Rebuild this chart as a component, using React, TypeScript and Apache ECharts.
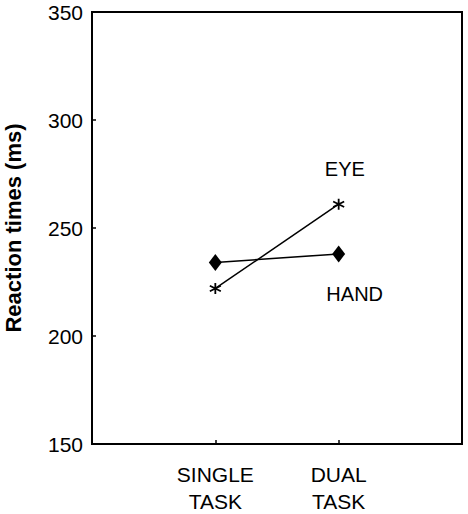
import React, { useEffect, useRef } from "react";
import * as echarts from "echarts";

const categories = ["SINGLE\nTASK", "DUAL\nTASK"];
const categoryPositions = [1, 2];
const handValues = [234, 238];
const eyeValues = [222, 261];
const yTicks = [150, 200, 250, 300, 350];
const annotations = [
  { text: "EYE", x: 2.05, y: 277.5 },
  { text: "HAND", x: 2.13, y: 219.5 },
];

const FONT = "Liberation Sans, Arial, sans-serif";
const asterisk =
  "path://M0,-5L0,5M-4.33,-2.5L4.33,2.5M-4.33,2.5L4.33,-2.5";

export default function App() {
  const ref = useRef<HTMLDivElement>(null);
  useEffect(() => {
    if (!ref.current) return;
    const chart = echarts.init(ref.current, null, { renderer: "svg" });
    chart.setOption({
      animation: false,
      grid: {
        left: 92,
        top: 12,
        right: 6,
        bottom: 70,
        show: true,
        borderColor: "#000",
        borderWidth: 2,
        containLabel: false,
        outerBoundsMode: "none",
      },
      xAxis: {
        type: "value",
        min: 0,
        max: 3,
        interval: 1,
        splitLine: { show: false },
        axisLine: { show: true, lineStyle: { color: "#000", width: 2 } },
        axisTick: { show: true, inside: true, length: 4, lineStyle: { color: "#000", width: 1.5 } },
        axisLabel: {
          color: "#000",
          fontFamily: FONT,
          fontSize: 21,
          lineHeight: 27,
          margin: 17,
          formatter: (v: number) => {
            const i = categoryPositions.indexOf(v);
            return i >= 0 ? categories[i] : "";
          },
        },
      },
      yAxis: {
        type: "value",
        min: yTicks[0],
        max: yTicks[yTicks.length - 1],
        interval: 50,
        name: "Reaction times (ms)",
        nameLocation: "middle",
        nameGap: 68,
        nameTextStyle: { color: "#000", fontFamily: FONT, fontSize: 22, fontWeight: "bold" },
        splitLine: { show: false },
        axisLine: { show: true, lineStyle: { color: "#000", width: 2 } },
        axisTick: { show: true, inside: true, length: 4, lineStyle: { color: "#000", width: 1.5 } },
        axisLabel: { color: "#000", fontFamily: FONT, fontSize: 21, margin: 9 },
      },
      series: [
        {
          name: "HAND",
          type: "line",
          data: categoryPositions.map((x, i) => [x, handValues[i]]),
          symbol: "diamond",
          symbolSize: [13, 17],
          lineStyle: { color: "#000", width: 1.5 },
          itemStyle: { color: "#000" },
          z: 3,
        },
        {
          name: "EYE",
          type: "line",
          data: categoryPositions.map((x, i) => [x, eyeValues[i]]),
          symbol: asterisk,
          symbolSize: 11,
          lineStyle: { color: "#000", width: 1.5 },
          itemStyle: { color: "#000", borderColor: "#000", borderWidth: 1.8 },
          z: 3,
        },
      ],
    });
    const graphics = annotations.map((a) => {
      const p = chart.convertToPixel({ gridIndex: 0 }, [a.x, a.y]) as number[];
      return {
        type: "text",
        x: p[0],
        y: p[1],
        style: {
          text: a.text,
          fill: "#000",
          font: `20px ${FONT}`,
          textAlign: "center",
          textVerticalAlign: "middle",
        },
      };
    });
    chart.setOption({ graphic: graphics });
    return () => chart.dispose();
  }, []);
  return (
    <div
      ref={ref}
      style={{ position: "absolute", left: 0, top: 0, width: 468, height: 514 }}
    />
  );
}
